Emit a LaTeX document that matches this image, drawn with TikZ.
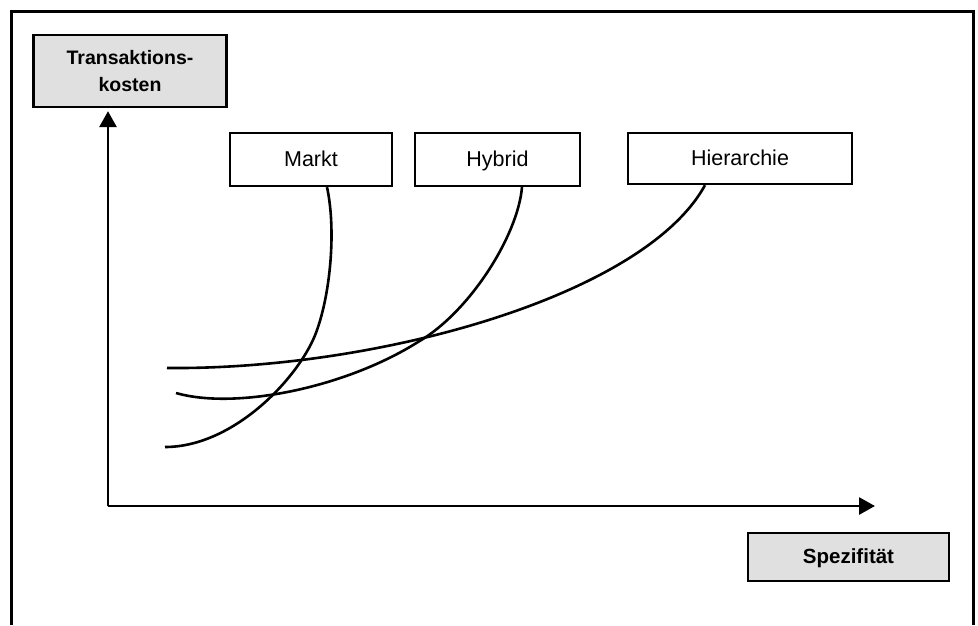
\documentclass[tikz,border=0pt]{standalone}
\usepackage{fontspec}
\setmainfont{Liberation Sans}
\usetikzlibrary{arrows.meta,calc}

\tikzset{
  frame/.style={line width=3pt},
  labelbox/.style={draw, line width=2.3pt, inner sep=0pt, align=center,
    text height=17pt, text depth=4pt,
    font=\fontsize{21.5}{27}\selectfont},
  axisbox/.style={draw, line width=2.3pt, inner sep=0pt, align=center,
    fill=black!12},
  axis/.style={line width=2.8pt, -{Triangle[width=17pt,length=16pt]}},
  curve/.style={line width=2.6pt},
}

\begin{document}
\begin{tikzpicture}[x=1pt,y=-1pt]
  \useasboundingbox (0,0) rectangle (978,625);

  % outer frame (open at the bottom)
  \draw[frame] (11,625) -- (11,11) -- (973,11) -- (973,625);

  % axis labels
  \node[axisbox, minimum width=193pt, minimum height=72pt,
        font=\fontsize{19.5}{27}\selectfont\bfseries] (tk) at (130,71)
    {Transaktions-\\kosten};
  \node[axisbox, minimum width=201pt, minimum height=48pt,
        text height=16pt, text depth=4pt,
        font=\fontsize{20.5}{27}\selectfont\bfseries] (sp) at (848.5,557)
    {Spezifität};

  % governance forms
  \node[labelbox, minimum width=162pt, minimum height=53pt] (mk) at (311,159.5) {Markt};
  \node[labelbox, minimum width=165pt, minimum height=53pt] (hy) at (497.5,159.5) {Hybrid};
  \node[labelbox, minimum width=224pt, minimum height=51pt] (hi) at (740,158.5) {Hierarchie};

  % axes
  \coordinate (o) at (108,506);
  \coordinate (xend) at (875,506);
  \draw[axis] (o) -- ($(o |- tk.south)+(0,3)$);
  \draw[axis] (o) -- (xend);

  % cost curves
  \coordinate (mkStart) at (165,447);
  \coordinate (mkMid) at (313,340);
  \coordinate (hyStart) at (176,393);
  \coordinate (hyMid) at (418,342);
  \coordinate (hiStart) at (167,368);

  \draw[curve] (mkStart) .. controls (230,447) and (292,385) .. (mkMid)
    .. controls (329.5,303.6) and (337,233) .. ($(mk.south)+(16,0)$);
  \draw[curve] (hyStart) .. controls (235,410) and (345,388) .. (hyMid)
    .. controls (470,312) and (518,235) .. ($(hy.south)+(24.5,0)$);
  \draw[curve] (hiStart) .. controls (380,370) and (645,295) .. ($(hi.south)+(-35,0)$);
\end{tikzpicture}
\end{document}
